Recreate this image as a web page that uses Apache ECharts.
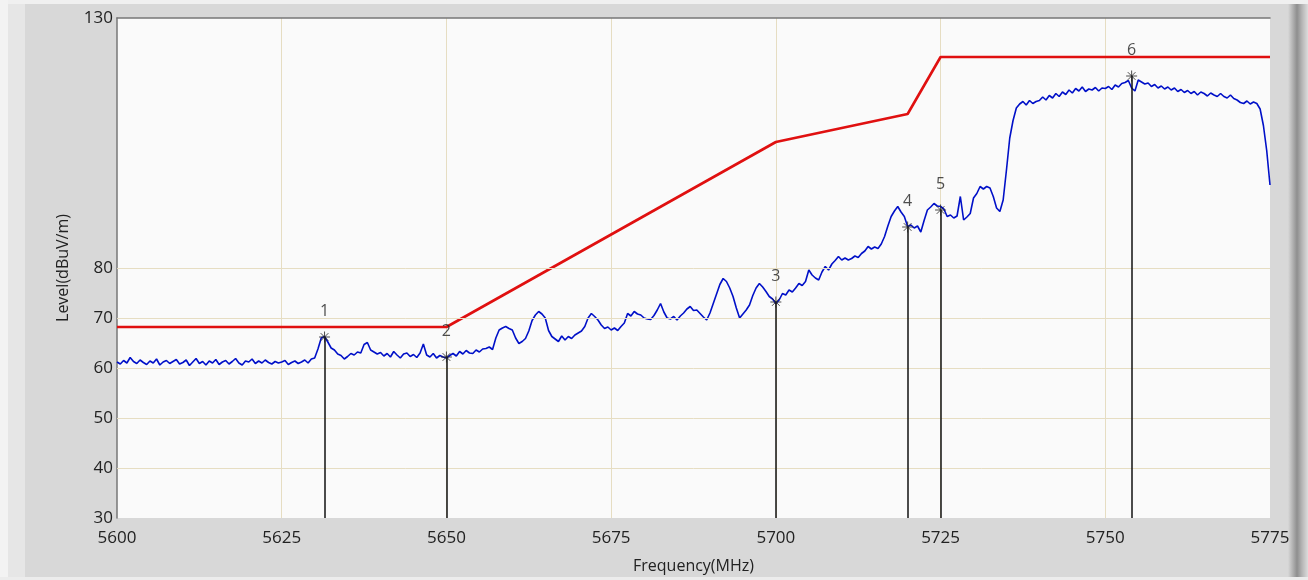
<!DOCTYPE html>
<html>
<head>
<meta charset="utf-8">
<script src="https://cdn.jsdelivr.net/npm/echarts@6/dist/echarts.min.js"></script>
<style>
    html, body { margin: 0; padding: 0; background: #d8d8d8; }
    #chart { width: 1308px; height: 580px; }
</style>
</head>
<body>
<div id="chart"></div>
<script>
// sweep: 5600 MHz .. 5775 MHz, one reading every 0.5 MHz
const freqStart = 5600;
const freqStep = 0.5;
const traceLevel = [
    61.2, 60.8, 61.5, 61.0, 62.1, 61.3, 60.9, 61.6, 61.1, 60.7, 61.4, 61.0, 61.8, 60.6, 61.2, 61.5, 60.9, 61.3, 61.7, 60.8,
    61.1, 61.6, 60.5, 61.2, 61.9, 60.9, 61.3, 60.6, 61.4, 61.0, 61.7, 60.7, 61.2, 61.5, 60.8, 61.3, 61.9, 61.0, 60.6, 61.4,
    61.2, 61.8, 60.9, 61.4, 61.0, 61.6, 61.1, 60.8, 61.3, 61.0, 61.2, 61.5, 60.7, 61.1, 61.4, 60.9, 61.2, 61.6, 61.0, 61.8,
    62.0, 63.8, 66.0, 66.3, 65.2, 64.0, 63.6, 62.8, 62.5, 61.8, 62.3, 62.9, 62.6, 63.2, 63.0, 64.7, 65.1, 63.6, 63.2, 62.8,
    63.1, 62.4, 62.9, 62.2, 63.3, 62.6, 62.0, 62.8, 63.0, 62.3, 62.7, 62.1, 63.0, 64.8, 62.6, 62.2, 62.9, 62.0, 62.5, 62.2,
    62.0, 62.5, 62.9, 62.4, 63.3, 62.8, 63.5, 63.0, 62.9, 63.6, 63.2, 63.8, 63.9, 64.2, 63.7, 66.0, 67.6, 68.0, 68.3, 67.9,
    67.6, 66.0, 64.9, 65.3, 65.9, 67.4, 69.5, 70.6, 71.3, 70.8, 70.0, 67.5, 66.3, 65.8, 65.3, 66.4, 65.6, 66.3, 65.9, 66.6,
    67.0, 67.4, 68.3, 70.0, 70.9, 70.3, 69.6, 68.6, 67.9, 68.2, 67.6, 68.0, 67.5, 68.3, 69.0, 70.9, 70.4, 71.3, 70.8, 70.6,
    70.0, 69.8, 69.7, 70.5, 71.6, 72.9, 71.2, 70.0, 69.8, 70.3, 69.6, 70.4, 71.0, 71.8, 72.3, 71.5, 71.6, 70.9, 70.2, 69.6,
    71.0, 72.9, 74.8, 76.7, 77.9, 77.3, 76.0, 74.3, 72.0, 70.0, 70.8, 71.6, 72.6, 74.5, 76.0, 76.9, 76.2, 75.3, 74.3, 73.8,
    72.9, 73.6, 74.9, 74.6, 75.6, 75.2, 76.0, 76.9, 76.5, 77.3, 79.6, 78.6, 78.0, 77.6, 79.2, 80.3, 79.6, 80.8, 81.5, 82.3,
    81.6, 82.0, 81.6, 81.9, 82.4, 82.1, 82.9, 83.4, 84.3, 83.8, 84.2, 83.9, 84.8, 86.3, 88.4, 90.3, 91.4, 92.3, 91.2, 90.3,
    88.3, 88.6, 88.0, 88.4, 87.2, 89.5, 91.6, 92.2, 92.9, 92.4, 92.3, 91.8, 90.3, 90.6, 90.0, 90.4, 94.3, 89.6, 90.2, 90.9,
    94.0, 94.9, 96.3, 95.8, 96.3, 96.0, 94.3, 92.0, 91.3, 93.6, 99.6, 106.0, 109.5, 112.0, 112.8, 113.3, 112.6, 113.5, 112.9, 113.3,
    113.5, 114.2, 113.6, 114.5, 114.0, 114.9, 114.3, 115.2, 114.7, 115.6, 115.0, 115.9, 115.4, 116.2, 115.3, 115.8, 115.6, 116.1, 115.4, 116.0,
    115.9, 116.3, 115.7, 116.6, 116.2, 116.9, 117.1, 117.5, 116.0, 115.4, 117.6, 117.2, 116.8, 117.0, 116.3, 116.7, 116.0, 116.4, 115.8, 116.2,
    115.6, 116.0, 115.3, 115.7, 115.1, 115.5, 114.9, 115.3, 114.6, 115.2, 114.9, 114.4, 115.0, 114.6, 114.3, 114.9, 114.3, 114.0, 114.6, 113.9,
    113.6, 113.1, 112.9, 113.4, 112.8, 113.2, 112.9, 111.8, 108.5, 103.5, 96.6
];

const limitFreq = [5600, 5650, 5700, 5720, 5725, 5775];
const limitLevel = [68.2, 68.2, 105.2, 110.8, 122.2, 122.2];

const markerName = ['1', '2', '3', '4', '5', '6'];
const markerFreq = [5631.5, 5650, 5700, 5720, 5725, 5754];
const markerLevel = [66.2, 62.2, 73.2, 88.2, 91.6, 118.4];

const yLabelShown = [30, 40, 50, 60, 70, 80, 130];
const yGridLines = [40, 50, 60, 70, 80];

const textColor = '#222';
const gridColor = '#e6ddc2';
const fontFamily = '"Open Sans", "Noto Sans", sans-serif';

const traceData = traceLevel.map((v, i) => [freqStart + i * freqStep, v]);
const limitData = limitFreq.map((f, i) => [f, limitLevel[i]]);
const markerData = markerFreq.map((f, i) => ({ value: [f, markerLevel[i]], name: markerName[i] }));

const starPath = 'path://M0,-6L0,6M-6,0L6,0M-4.2,-4.2L4.2,4.2M-4.2,4.2L4.2,-4.2';

const chart = echarts.init(document.getElementById('chart'));
chart.setOption({
    animation: false,
    backgroundColor: '#d8d8d8',
    textStyle: { fontFamily },
    graphic: [
        { type: 'rect', shape: { x: 0, y: 0, width: 1308, height: 4 }, style: { fill: '#f0f0f0' }, silent: true },
        { type: 'rect', shape: { x: 0, y: 0, width: 8, height: 580 }, style: { fill: '#f3f3f3' }, silent: true },
        { type: 'rect', shape: { x: 8, y: 4, width: 17, height: 576 }, style: { fill: '#e6e6e6' }, silent: true },
        { type: 'rect', shape: { x: 0, y: 577, width: 1308, height: 3 }, style: { fill: '#ececec' }, silent: true },
        {
            type: 'rect',
            shape: { x: 1288, y: 4, width: 20, height: 573 },
            style: {
                fill: new echarts.graphic.LinearGradient(0, 0, 1, 0, [
                    { offset: 0, color: '#d8d8d8' },
                    { offset: 0.45, color: '#8e8e8e' },
                    { offset: 0.7, color: '#b5b5b5' },
                    { offset: 1, color: '#dcdcdc' }
                ])
            },
            silent: true
        }
    ],
    grid: {
        left: 117,
        right: 38,
        top: 18,
        bottom: 62,
        show: true,
        backgroundColor: '#fafafa',
        borderWidth: 0
    },
    xAxis: [
        {
            type: 'value',
            min: 5600,
            max: 5775,
            interval: 25,
            name: 'Frequency(MHz)',
            nameLocation: 'middle',
            nameGap: 40,
            nameTextStyle: { color: textColor, fontSize: 16 },
            axisLine: { show: false },
            axisTick: { show: false },
            axisLabel: { color: textColor, fontSize: 17, margin: 12, formatter: v => String(v) },
            splitLine: {
                show: true,
                showMinLine: false,
                showMaxLine: false,
                lineStyle: { color: gridColor, width: 1 }
            }
        },
        {
            type: 'value',
            position: 'top',
            min: 5600,
            max: 5775,
            axisLine: { show: true, onZero: false, lineStyle: { color: '#777', width: 1.5 } },
            axisTick: { show: false },
            axisLabel: { show: false },
            splitLine: { show: false }
        }
    ],
    yAxis: {
        type: 'value',
        min: 30,
        max: 130,
        interval: 10,
        name: 'Level(dBuV/m)',
        nameLocation: 'middle',
        nameGap: 46,
        nameTextStyle: { color: textColor, fontSize: 16 },
        axisLine: { show: true, lineStyle: { color: '#777', width: 1.5 } },
        axisTick: { show: false },
        axisLabel: {
            color: textColor,
            fontSize: 17,
            margin: 4,
            formatter: v => (yLabelShown.indexOf(v) >= 0 ? String(v) : '')
        },
        splitLine: { show: false }
    },
    series: [
        {
            name: 'grid',
            type: 'line',
            data: [],
            z: 1,
            silent: true,
            markLine: {
                silent: true,
                symbol: ['none', 'none'],
                label: { show: false },
                lineStyle: { color: gridColor, type: 'solid', width: 1 },
                data: yGridLines.map(v => ({ yAxis: v }))
            }
        },
        {
            name: 'Trace',
            type: 'line',
            data: traceData,
            showSymbol: false,
            z: 3,
            lineStyle: { color: '#0010c8', width: 1.6 }
        },
        {
            name: 'Limit',
            type: 'line',
            data: limitData,
            showSymbol: false,
            z: 4,
            lineStyle: { color: '#e01010', width: 2.6 }
        },
        {
            name: 'Markers',
            type: 'scatter',
            data: markerData,
            z: 5,
            symbol: starPath,
            symbolSize: 11,
            itemStyle: { color: 'rgba(0,0,0,0)', borderColor: '#222', borderWidth: 1 },
            label: {
                show: true,
                position: 'top',
                distance: 12,
                color: textColor,
                fontSize: 16,
                formatter: p => p.name
            },
            markLine: {
                silent: true,
                symbol: ['none', 'none'],
                label: { show: false },
                lineStyle: { color: '#111', type: 'solid', width: 1.5 },
                data: markerFreq.map((f, i) => [
                    { coord: [f, 30] },
                    { coord: [f, markerLevel[i]] }
                ])
            }
        }
    ]
});
</script>
</body>
</html>
